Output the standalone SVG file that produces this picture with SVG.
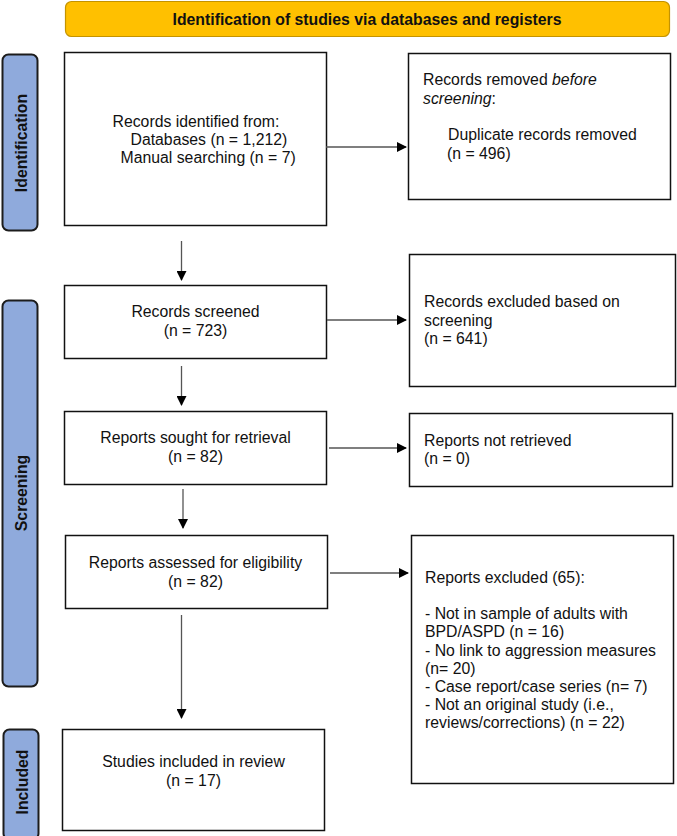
<svg xmlns="http://www.w3.org/2000/svg" width="677" height="836" viewBox="0 0 677 836">
<style>
text{font-family:"Liberation Sans",Arial,sans-serif;font-size:15.8px;fill:#111}
.c{text-anchor:middle}
.b{font-weight:bold}
.box{fill:#fff;stroke:#111;stroke-width:1.5}
.side{fill:#8FAADC;stroke:#1c1c1c;stroke-width:2}
.ban{fill:#FFC000;stroke:#C49300;stroke-width:1.2}
.ln{stroke:#555;stroke-width:1.3;fill:none}
</style>
<defs>
<marker id="ah" markerWidth="10" markerHeight="10" refX="9" refY="5" orient="auto" markerUnits="userSpaceOnUse">
<path d="M0,0 L10,5 L0,10 Z" fill="#000"/>
</marker>
</defs>
<rect width="677" height="836" fill="#fff"/>
<g id="banner">
<rect class="ban" x="65.5" y="1.5" width="604" height="35" rx="6"/>
<text class="c b" x="367" y="25">Identification of studies via databases and registers</text>
</g>
<g id="side-identification">
<rect class="side" x="2.5" y="54.5" width="35" height="176" rx="6"/>
<text class="c b" transform="translate(26.5,143) rotate(-90)">Identification</text>
</g>
<g id="side-screening">
<rect class="side" x="2.5" y="300.5" width="35" height="386" rx="6"/>
<text class="c b" transform="translate(26.5,493) rotate(-90)">Screening</text>
</g>
<g id="side-included">
<rect class="side" x="3.5" y="729.5" width="35" height="110" rx="6"/>
<text class="c b" transform="translate(27.5,782) rotate(-90)">Included</text>
</g>
<g id="records-identified">
<rect class="box" x="64.5" y="52.5" width="262" height="173"/>
<text x="112.5" y="127">Records identified from:</text>
<text x="130.5" y="145">Databases (n = 1,212)</text>
<text x="120.5" y="163">Manual searching (n = 7)</text>
</g>
<g id="records-removed">
<rect class="box" x="408.5" y="53.5" width="262" height="146"/>
<text x="423" y="85">Records removed <tspan font-style="italic">before</tspan></text>
<text x="423" y="104"><tspan font-style="italic">screening</tspan>:</text>
<text x="448" y="140">Duplicate records removed</text>
<text x="447" y="159">(n = 496)</text>
</g>
<g id="records-screened">
<rect class="box" x="64.5" y="285.5" width="262" height="73"/>
<text class="c" x="195.5" y="317">Records screened</text>
<text class="c" x="195.5" y="336">(n = 723)</text>
</g>
<g id="records-excluded">
<rect class="box" x="409.5" y="254.5" width="266" height="132"/>
<text x="424" y="307">Records excluded based on</text>
<text x="424" y="326">screening</text>
<text x="424" y="344">(n = 641)</text>
</g>
<g id="reports-sought">
<rect class="box" x="64.5" y="411.5" width="262" height="73"/>
<text class="c" x="195.5" y="443">Reports sought for retrieval</text>
<text class="c" x="195.5" y="462">(n = 82)</text>
</g>
<g id="reports-not-retrieved">
<rect class="box" x="409.5" y="413.5" width="263" height="73"/>
<text x="424" y="446">Reports not retrieved</text>
<text x="424" y="464">(n = 0)</text>
</g>
<g id="reports-assessed">
<rect class="box" x="65.5" y="535.5" width="262" height="73"/>
<text class="c" x="195.5" y="568">Reports assessed for eligibility</text>
<text class="c" x="195.5" y="587">(n = 82)</text>
</g>
<g id="reports-excluded">
<rect class="box" x="411.5" y="535.5" width="262" height="248"/>
<text x="425" y="583">Reports excluded (65):</text>
<text x="425" y="619">- Not in sample of adults with</text>
<text x="425" y="637">BPD/ASPD (n = 16)</text>
<text x="425" y="656">- No link to aggression measures</text>
<text x="425" y="674">(n= 20)</text>
<text x="425" y="692">- Case report/case series (n= 7)</text>
<text x="425" y="710">- Not an original study (i.e.,</text>
<text x="425" y="728">reviews/corrections) (n = 22)</text>
</g>
<g id="studies-included">
<rect class="box" x="62.5" y="729.5" width="262" height="101"/>
<text class="c" x="193.5" y="767">Studies included in review</text>
<text class="c" x="193.5" y="786">(n = 17)</text>
</g>
<g id="connectors">
<line class="ln" x1="326" y1="147" x2="406" y2="147" marker-end="url(#ah)"/>
<line class="ln" x1="181.5" y1="241" x2="181.5" y2="280" marker-end="url(#ah)"/>
<line class="ln" x1="327" y1="320" x2="406" y2="320" marker-end="url(#ah)"/>
<line class="ln" x1="181.5" y1="366" x2="181.5" y2="405" marker-end="url(#ah)"/>
<line class="ln" x1="329" y1="448" x2="406" y2="448" marker-end="url(#ah)"/>
<line class="ln" x1="183" y1="489" x2="183" y2="528" marker-end="url(#ah)"/>
<line class="ln" x1="330" y1="573" x2="408" y2="573" marker-end="url(#ah)"/>
<line class="ln" x1="181.5" y1="615" x2="181.5" y2="718" marker-end="url(#ah)"/>
</g>
</svg>
